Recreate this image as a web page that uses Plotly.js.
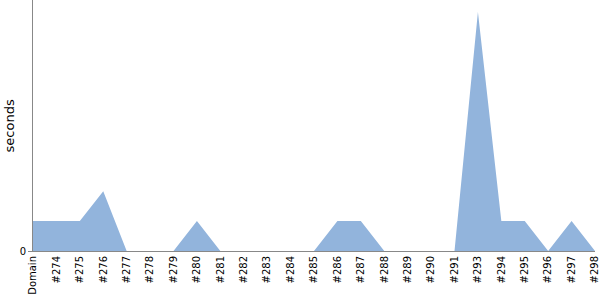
<!DOCTYPE html>
<html><head><meta charset="utf-8">
<script src="https://cdn.plot.ly/plotly-3.0.1.min.js"></script>
<style>html,body{margin:0;padding:0;background:#fff}#c{width:600px;height:300px}</style>
</head><body><div id="c"></div>
<script>
const categories = ["Domain","#274","#275","#276","#277","#278","#279","#280","#281","#282","#283","#284","#285","#286","#287","#288","#289","#290","#291","#293","#294","#295","#296","#297","#298"];
const seconds = [1,1,1,2,0,0,0,1,0,0,0,0,0,1,1,0,0,0,0,8,1,1,0,1,0];
const yTicks = [0];

Plotly.newPlot('c', [{
  x: categories, y: seconds, type: 'scatter', mode: 'lines',
  fill: 'tozeroy', fillcolor: '#92b4dc', line: {width: 0, color: '#92b4dc'},
  hoverinfo: 'none'
}], {
  width: 600, height: 300,
  margin: {l: 33, r: 5, t: 0, b: 49},
  paper_bgcolor: '#fff', plot_bgcolor: '#fff',
  showlegend: false,
  font: {family: 'DejaVu Sans, sans-serif', size: 10, color: '#000'},
  xaxis: {type: 'category', range: [0, 24], tickangle: -90, showgrid: false, zeroline: false,
    showline: true, linecolor: '#888', linewidth: 1, ticks: '', tickfont: {size: 10}},
  yaxis: {range: [0, 8.4], tickvals: yTicks, ticktext: ['0'], showgrid: false, zeroline: false,
    showline: true, linecolor: '#888', linewidth: 1, ticks: 'outside', ticklen: 4, tickcolor: '#888',
    tickfont: {size: 10}},
  annotations: [{text: 'seconds', textangle: -90, xref: 'paper', yref: 'paper',
    x: -0.041, y: 0.5, xanchor: 'center', yanchor: 'middle', showarrow: false,
    font: {size: 13, color: '#000'}}]
}, {staticPlot: true});
</script></body></html>
